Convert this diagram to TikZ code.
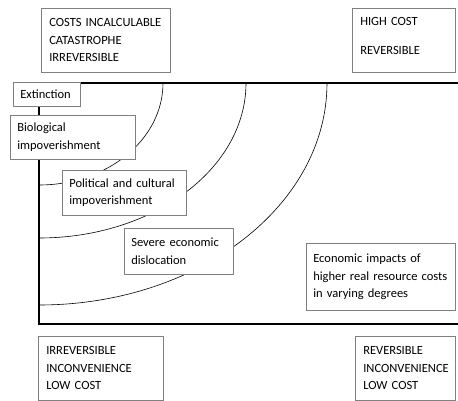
\documentclass[tikz,border=0pt]{standalone}
\usepackage{fontspec}
\setmainfont{Carlito}
\usepackage{tikz}

\tikzset{
  costbox/.style={rectangle, draw=gray, line width=0.6pt, fill=white, anchor=north west,
                  inner xsep=8pt, inner ysep=0pt, align=left,
                  font=\fontsize{12.5}{17.5}\selectfont},
  frameline/.style={line width=1.6pt},
  band/.style={line width=0.6pt}
}

\begin{document}
\begin{tikzpicture}[x=1pt, y=-1pt]
\useasboundingbox (0,0) rectangle (458,401);

  % axes of the frame
  \coordinate (corner) at (39,83);
  \coordinate (topend) at (458,83);
  \coordinate (botleft) at (39,324);
  \coordinate (botend) at (458,324);
  \draw[frameline] (topend) -- (corner) -- (botleft) -- (botend);

  % bands of damage
  \draw[band] (corner) ++(124,0) arc[start angle=0, end angle=90, x radius=124, y radius=102];
  \draw[band] (corner) ++(207,0) arc[start angle=0, end angle=90, x radius=207, y radius=155];
  \draw[band] (corner) ++(288,0) arc[start angle=0, end angle=90, x radius=288, y radius=222];

  % corner labels
  \node[costbox, minimum width=129pt, minimum height=64pt, text width=113pt]
       (incalc) at (41,8) {COSTS INCALCULABLE\\CATASTROPHE\\IRREVERSIBLE};
  \node[costbox, minimum width=103pt, minimum height=64pt, text width=87pt, text depth=37pt]
       (highcost) at (352,8) {HIGH COST\\[11.5pt]REVERSIBLE};
  \node[costbox, minimum width=125pt, minimum height=64pt, text width=109pt]
       (irrlow) at (38,336) {IRREVERSIBLE\\INCONVENIENCE\\LOW COST};
  \node[costbox, minimum width=100pt, minimum height=64pt, text width=84pt]
       (revlow) at (355,336) {REVERSIBLE\\INCONVENIENCE\\LOW COST};

  % damage labels
  \node[costbox, minimum width=67pt, minimum height=24pt, text width=53pt, inner xsep=7pt]
       (extinct) at (13,82) {Extinction};
  \node[costbox, minimum width=125pt, minimum height=44pt, text width=111pt, inner xsep=7pt]
       (bio) at (10,115) {Biological\\impoverishment};
  \node[costbox, minimum width=124pt, minimum height=45pt, text width=110pt, inner xsep=7pt]
       (polcult) at (62,170) {Political and cultural\\impoverishment};
  \node[costbox, minimum width=109pt, minimum height=46pt, text width=95pt, inner xsep=7pt]
       (severe) at (124,228) {Severe economic\\dislocation};
  \node[costbox, minimum width=149pt, minimum height=67pt, text width=135pt, inner xsep=7pt]
       (econ) at (306,243) {Economic impacts of\\higher real resource costs\\in varying degrees};

\end{tikzpicture}
\end{document}
